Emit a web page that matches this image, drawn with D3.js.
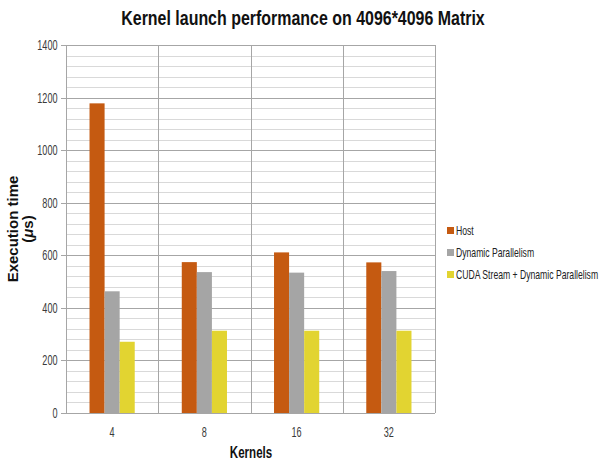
<!DOCTYPE html>
<html><head><meta charset="utf-8">
<script src="https://cdn.jsdelivr.net/npm/d3@7"></script>
<style>body{margin:0;background:#fff}svg{display:block}</style>
</head><body>
<svg id="c" width="605" height="466"></svg>
<script>
const categories = ["4", "8", "16", "32"];
const seriesNames = ["Host", "Dynamic Parallelism", "CUDA Stream + Dynamic Parallelism"];
const hostValues = [1178, 574, 611, 573];
const dynamicValues = [463, 536, 534, 540];
const streamValues = [271, 313, 313, 313];
const yTicks = [0, 200, 400, 600, 800, 1000, 1200, 1400];
const colors = ["#C55A11", "#A5A5A5", "#E2D431"];

const series = [hostValues, dynamicValues, streamValues];
const svg = d3.select("#c");
const font = "'Liberation Sans', Arial, sans-serif";
const m = {left: 66, right: 435, top: 45, bottom: 413};

// compress text horizontally (about its anchor point) to mimic a condensed face
function condense(sel, f) {
  sel.each(function() {
    const x = +this.getAttribute("x") || 0, yy = +this.getAttribute("y") || 0;
    this.removeAttribute("x"); this.removeAttribute("y");
    const prev = this.getAttribute("transform") || "";
    this.setAttribute("transform", `${prev} translate(${x},${yy}) scale(${f},1)`);
  });
}

const y = d3.scaleLinear().domain([0, 1400]).range([m.bottom, m.top]);
const x0 = d3.scaleBand().domain(categories).range([m.left, m.right]).padding(0);
const x1 = d3.scaleBand().domain(d3.range(series.length))
  .range([x0.bandwidth() * 0.255, x0.bandwidth() * 0.745]).padding(0);

// minor gridlines
const minor = d3.range(0, 1401, 40).filter(v => v % 200 !== 0);
svg.append("g").selectAll("line").data(minor).join("line")
  .attr("x1", m.left).attr("x2", m.right)
  .attr("y1", d => Math.round(y(d)) + 0.5).attr("y2", d => Math.round(y(d)) + 0.5)
  .attr("stroke", "#D9D9D9").attr("stroke-width", 1);
// major gridlines
svg.append("g").selectAll("line").data(yTicks).join("line")
  .attr("x1", m.left - 5).attr("x2", m.right)
  .attr("y1", d => Math.round(y(d)) + 0.5).attr("y2", d => Math.round(y(d)) + 0.5)
  .attr("stroke", "#A6A6A6").attr("stroke-width", 1);
// vertical separators
const seps = categories.map(c => x0(c)).concat([m.right]);
svg.append("g").selectAll("line").data(seps).join("line")
  .attr("x1", d => Math.round(d) + 0.5).attr("x2", d => Math.round(d) + 0.5)
  .attr("y1", m.top).attr("y2", m.bottom)
  .attr("stroke", "#A6A6A6").attr("stroke-width", 1);

// bars
const g = svg.append("g").selectAll("g").data(categories).join("g")
  .attr("transform", c => `translate(${x0(c)},0)`);
g.selectAll("rect").data((c, i) => series.map((s, k) => ({k, v: s[i]}))).join("rect")
  .attr("x", d => x1(d.k)).attr("width", x1.bandwidth())
  .attr("y", d => y(d.v)).attr("height", d => y(0) - y(d.v))
  .attr("fill", d => colors[d.k]);

// y tick labels
svg.append("g").selectAll("text").data(yTicks).join("text")
  .attr("x", 57.5).attr("y", d => y(d) + 5)
  .attr("text-anchor", "end").attr("font-family", font).attr("font-size", 14)
  .attr("fill", "#3a3a3a").text(d => d).call(condense, 0.65);
// x tick labels
svg.append("g").selectAll("text").data(categories).join("text")
  .attr("x", c => x0(c) + x0.bandwidth() / 2).attr("y", 437)
  .attr("text-anchor", "middle").attr("font-family", font).attr("font-size", 14)
  .attr("fill", "#3a3a3a").text(c => c).call(condense, 0.65);

// title
svg.append("text").attr("x", 303).attr("y", 25).attr("text-anchor", "middle")
  .attr("font-family", font).attr("font-weight", "bold").attr("font-size", 21)
  .attr("fill", "#111").text("Kernel launch performance on 4096*4096 Matrix")
  .call(condense, 0.76);
// x axis title
svg.append("text").attr("x", 251).attr("y", 458).attr("text-anchor", "middle")
  .attr("font-family", font).attr("font-weight", "bold").attr("font-size", 16.5)
  .attr("fill", "#111").text("Kernels").call(condense, 0.7);
// y axis title
const yt = svg.append("text").attr("transform", "translate(18,229) rotate(-90)")
  .attr("text-anchor", "middle").attr("font-family", font)
  .attr("font-weight", "bold").attr("font-size", 15).attr("fill", "#111");
yt.append("tspan").attr("x", 0).attr("y", 0).text("Execution time");
yt.append("tspan").attr("x", 0).attr("y", 14.5).text("(");
yt.append("tspan").attr("font-style", "italic").text("\u03BC");
yt.append("tspan").text("s)");

// legend
const lg = svg.append("g").selectAll("g").data(seriesNames).join("g")
  .attr("transform", (d, i) => `translate(447,${231 + i * 22})`);
lg.append("rect").attr("x", 0).attr("y", -4).attr("width", 7).attr("height", 7)
  .attr("fill", (d, i) => colors[i]);
lg.append("text").attr("x", 9).attr("y", 4).attr("font-family", font)
  .attr("font-size", 12).attr("fill", "#222").text(d => d).call(condense, 0.72);
</script>
</body></html>
